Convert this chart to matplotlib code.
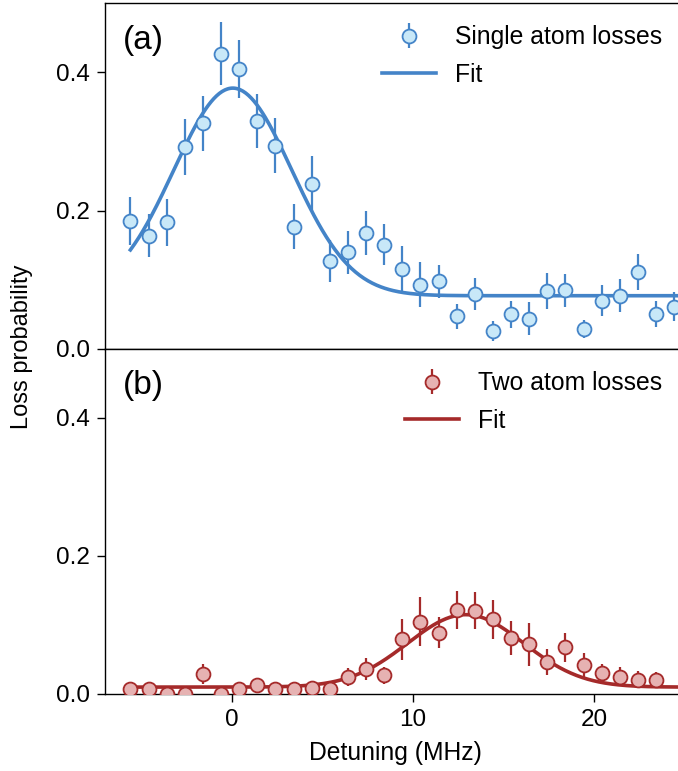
import numpy as np
import matplotlib
matplotlib.use("Agg")
import matplotlib.pyplot as plt

plt.rcParams['font.family'] = ['Liberation Sans', 'DejaVu Sans']

# detuning (MHz)
detuning_single = [-5.6, -4.6, -3.6, -2.6, -1.6, -0.6, 0.4, 1.4, 2.4, 3.4, 4.4,
                   5.4, 6.4, 7.4, 8.4, 9.4, 10.4, 11.4, 12.4, 13.4, 14.4, 15.4,
                   16.4, 17.4, 18.4, 19.4, 20.4, 21.4, 22.4, 23.4, 24.4]
loss_single = [0.185, 0.164, 0.183, 0.292, 0.326, 0.427, 0.404, 0.329, 0.294, 0.177,
               0.239, 0.127, 0.140, 0.168, 0.151, 0.116, 0.093, 0.098, 0.047, 0.079,
               0.026, 0.050, 0.044, 0.084, 0.085, 0.029, 0.070, 0.077, 0.111, 0.051,
               0.061]
err_single = [0.034, 0.031, 0.034, 0.040, 0.040, 0.045, 0.042, 0.039, 0.040, 0.032,
              0.040, 0.030, 0.031, 0.032, 0.030, 0.033, 0.033, 0.024, 0.018, 0.023,
              0.014, 0.019, 0.024, 0.026, 0.024, 0.013, 0.022, 0.024, 0.026, 0.019,
              0.021]

detuning_two = [-5.6, -4.6, -3.6, -2.6, -1.6, -0.6, 0.4, 1.4, 2.4, 3.4, 4.4,
                5.4, 6.4, 7.4, 8.4, 9.4, 10.4, 11.4, 12.4, 13.4, 14.4, 15.4,
                16.4, 17.4, 18.4, 19.4, 20.4, 21.4, 22.4, 23.4]
loss_two = [0.007, 0.007, 0.0, 0.0, 0.029, 0.0, 0.007, 0.013, 0.007, 0.007, 0.008,
            0.007, 0.024, 0.036, 0.027, 0.079, 0.105, 0.089, 0.122, 0.121, 0.108,
            0.081, 0.072, 0.046, 0.068, 0.042, 0.030, 0.025, 0.021, 0.021]
err_two = [0.005, 0.005, 0.004, 0.004, 0.014, 0.004, 0.005, 0.008, 0.005, 0.005, 0.006,
           0.006, 0.013, 0.016, 0.012, 0.029, 0.035, 0.023, 0.028, 0.027, 0.028,
           0.025, 0.031, 0.019, 0.021, 0.017, 0.014, 0.014, 0.012, 0.011]

# gaussian fit parameters: amplitude, centre, sigma, offset
fit_single = (0.300, 0.05, 3.25, 0.077)
fit_two = (0.105, 12.9, 3.2, 0.010)

blue = '#4484c8'
blue_face = '#c8e8f8'
red = '#a52a2a'
red_face = '#e6b2b2'


def gauss(x, amp, x0, sig, off):
    return off + amp * np.exp(-(x - x0) ** 2 / (2 * sig ** 2))


fig = plt.figure(figsize=(6.78, 7.71), dpi=100)
ax1 = fig.add_axes([105 / 678, 422 / 771, 580 / 678, 346 / 771])
ax2 = fig.add_axes([105 / 678, 77 / 771, 580 / 678, 345 / 771])

xfit = np.linspace(-5.6, 25, 400)

panels = [
    (ax1, detuning_single, loss_single, err_single, fit_single, blue, blue_face,
     'Single atom losses', '(a)'),
    (ax2, detuning_two, loss_two, err_two, fit_two, red, red_face,
     'Two atom losses', '(b)'),
]

for ax, x, y, e, p, col, face, lab, tag in panels:
    fit_line, = ax.plot(xfit, gauss(xfit, *p), color=col, lw=2.6, zorder=2, label='Fit')
    pts = ax.errorbar(x, y, yerr=e, fmt='o', color=col, mfc=face, mec=col, ms=10,
                      mew=1.3, elinewidth=1.6, capsize=0, zorder=3, label=lab)
    ax.set_xlim(-7, 25)
    ax.set_ylim(0, 0.5)
    ax.set_yticks([0.0, 0.2, 0.4])
    ax.tick_params(labelsize=17.5, direction='out', length=6, width=1, pad=5)
    ax.spines['right'].set_visible(False)
    for s in ax.spines.values():
        s.set_linewidth(1.0)
    ax.text(0.03, 0.893, tag, transform=ax.transAxes, fontsize=24,
            ha='left', va='center')
    ax.legend([pts, fit_line], [lab, 'Fit'], loc='upper right', frameon=False,
              fontsize=17.8, bbox_to_anchor=(574 / 580, 0.985),
              handlelength=2.2, handletextpad=0.75, borderaxespad=0.3,
              labelspacing=0.55)

ax1.tick_params(axis='x', bottom=False, labelbottom=False)
ax2.set_xticks([0, 10, 20])
ax2.set_xlabel('Detuning (MHz)', fontsize=17.8, labelpad=7)

fig.text(22 / 678, 1 - 347 / 771, 'Loss probability', rotation=90,
         fontsize=17, ha='center', va='center')

fig.savefig('out.png', dpi=100)
